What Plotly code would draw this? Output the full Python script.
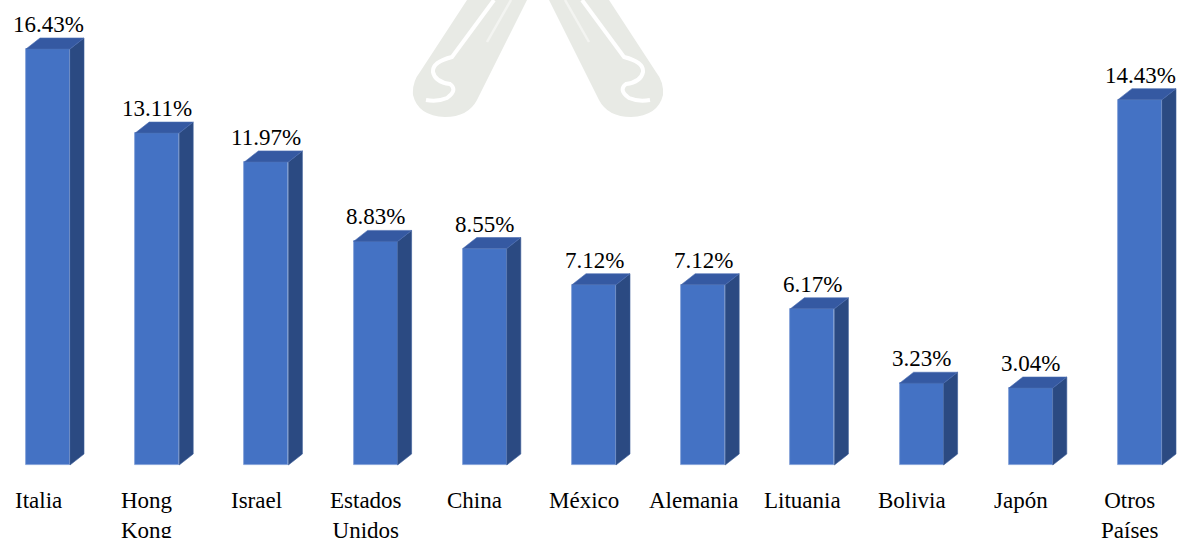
import plotly.graph_objects as go

# Share of each country (%)
countries = ["Italia", "Hong<br>Kong", "Israel", "Estados<br>Unidos", "China", "México",
             "Alemania", "Lituania", "Bolivia", "Japón", "Otros<br>Países"]
shares = [16.43, 13.11, 11.97, 8.83, 8.55, 7.12, 7.12, 6.17, 3.23, 3.04, 14.43]
labels = ["16.43%", "13.11%", "11.97%", "8.83%", "8.55%", "7.12%", "7.12%",
          "6.17%", "3.23%", "3.04%", "14.43%"]

W, H = 1179, 538
PX_PER_CAT = 109.2        # horizontal pitch between bars
PX_PER_UNIT = 25.32       # vertical pixels per percentage point
FIRST_CENTER_PX = 48      # centre of the first bar's front face
BASE_PX = 465             # baseline of the bars

x_lo = -FIRST_CENTER_PX / PX_PER_CAT
x_hi = (W - FIRST_CENTER_PX) / PX_PER_CAT
y_hi = BASE_PX / PX_PER_UNIT
y_lo = -(H - BASE_PX) / PX_PER_UNIT

bar_w = 44 / PX_PER_CAT
dx = 14 / PX_PER_CAT      # depth offset, horizontal
dy = 11 / PX_PER_UNIT     # depth offset, vertical

FRONT = "#4472C4"
TOP = "#3559A2"
SIDE = "#2B4A82"
FONT = "'Liberation Serif', 'Times New Roman', Times, 'DejaVu Serif', serif"

xs = list(range(len(countries)))

fig = go.Figure()

# side and top faces of each 3D bar
for i, v in zip(xs, shares):
    l, r = i - bar_w / 2, i + bar_w / 2
    fig.add_trace(go.Scatter(
        x=[r, r + dx, r + dx, r, r], y=[0, dy, v + dy, v, 0],
        fill="toself", fillcolor=SIDE, mode="lines",
        line=dict(width=0.6, color="#3A5C98"), hoverinfo="skip", showlegend=False))
    fig.add_trace(go.Scatter(
        x=[l, r, r + dx, l + dx, l], y=[v, v, v + dy, v + dy, v],
        fill="toself", fillcolor=TOP, mode="lines",
        line=dict(width=0.6, color="#4A6CB0"), hoverinfo="skip", showlegend=False))

# front faces
fig.add_trace(go.Bar(
    x=xs, y=shares, width=bar_w, marker=dict(color=FRONT, line=dict(color="#7E9CD6", width=0.8)),
    hoverinfo="skip", showlegend=False))

annotations = []
for i, v, t in zip(xs, shares, labels):
    annotations.append(dict(x=i, y=v, xref="x", yref="y", text=t, showarrow=False,
                            yanchor="bottom", yshift=10,
                            font=dict(family=FONT, size=23, color="#000000")))
for i, c in zip(xs, countries):
    annotations.append(dict(x=i, y=1 - 486 / H, xref="x", yref="paper", text=c,
                            showarrow=False, yanchor="top", xshift=-10, align="center",
                            font=dict(family=FONT, size=23, color="#000000")))


# faint crest in the background
def px(x, y):
    return f"{x / W:.5f},{1 - y / H:.5f}"


WM = "#E8EAE5"
shapes = []
for sgn in (1, -1):
    def mx(x):
        return x if sgn == 1 else 1076 - x
    body = (f"M {px(mx(467), 0)} L {px(mx(527), 0)} L {px(mx(477), 100)} "
            f"Q {px(mx(468), 117)} {px(mx(445), 117)} "
            f"Q {px(mx(418), 116)} {px(mx(413), 95)} "
            f"Q {px(mx(412), 82)} {px(mx(420), 72)} Z")
    shapes.append(dict(type="path", path=body, xref="paper", yref="paper",
                       fillcolor=WM, line=dict(width=0), layer="below"))
    stripe = (f"M {px(mx(494), 0)} L {px(mx(452), 57)} "
              f"Q {px(mx(432), 62)} {px(mx(433), 72)} "
              f"Q {px(mx(435), 82)} {px(mx(450), 84)} "
              f"Q {px(mx(458), 90)} {px(mx(447), 98)} "
              f"Q {px(mx(438), 102)} {px(mx(426), 100)}")
    shapes.append(dict(type="path", path=stripe, xref="paper", yref="paper",
                       line=dict(color="white", width=4), layer="below"))
    thin = f"M {px(mx(511), 0)} L {px(mx(487), 42)}"
    shapes.append(dict(type="path", path=thin, xref="paper", yref="paper",
                       line=dict(color="#F3F4F1", width=2.5), layer="below"))

fig.update_layout(
    width=W, height=H, margin=dict(l=0, r=0, t=0, b=0),
    paper_bgcolor="white", plot_bgcolor="rgba(0,0,0,0)",
    font=dict(family=FONT),
    xaxis=dict(range=[x_lo, x_hi], visible=False, fixedrange=True),
    yaxis=dict(range=[y_lo, y_hi], visible=False, fixedrange=True),
    annotations=annotations, shapes=shapes, bargap=0,
)

fig.write_html("out.html")
